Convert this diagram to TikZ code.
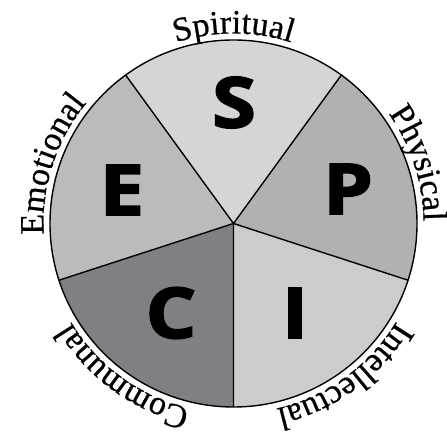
\documentclass[tikz,border=0pt]{standalone}
\usepackage{fontspec}
\setmainfont{Liberation Serif}
\newfontfamily\bigletterfont[BoldFeatures={FakeBold=2.5}]{Open Sans}
\newfontfamily\labelfontfam[LetterSpace=5,FakeBold=0.6]{Liberation Serif}
\usetikzlibrary{decorations.text}
\definecolor{secS}{RGB}{212,213,215}
\definecolor{secP}{RGB}{176,177,179}
\definecolor{secI}{RGB}{203,204,206}
\definecolor{secC}{RGB}{127,128,132}
\definecolor{secE}{RGB}{186,187,189}
\newcommand{\lab}{\labelfontfam\fontsize{34}{34}\selectfont}
\tikzset{
  divider/.style={line width=1.4pt, draw=black},
  rim/.style={line width=1.4pt, draw=black},
  bigletter/.style={inner sep=0pt, transform shape, xscale=1.13,
    font=\bigletterfont\bfseries\fontsize{70}{70}\selectfont},
  ringlabel/.style={decorate, decoration={text along path, text align=center}}
}
\begin{document}
\begin{tikzpicture}[x=1pt,y=1pt]
\useasboundingbox (0,0) rectangle (447,439);
\def\R{183.5}
\def\T{190}
\coordinate (O) at (233.5,215.5);
% sectors
\fill[secS] (O) -- ([shift={(54:\R)}]O) arc[start angle=54, end angle=126, radius=\R] -- cycle;
\fill[secE] (O) -- ([shift={(126:\R)}]O) arc[start angle=126, end angle=198, radius=\R] -- cycle;
\fill[secC] (O) -- ([shift={(198:\R)}]O) arc[start angle=198, end angle=270, radius=\R] -- cycle;
\fill[secI] (O) -- ([shift={(270:\R)}]O) arc[start angle=270, end angle=342, radius=\R] -- cycle;
\fill[secP] (O) -- ([shift={(-18:\R)}]O) arc[start angle=-18, end angle=54, radius=\R] -- cycle;
% boundary points
\coordinate (b1) at ([shift={(54:\R)}]O);
\coordinate (b2) at ([shift={(126:\R)}]O);
\coordinate (b3) at ([shift={(198:\R)}]O);
\coordinate (b4) at ([shift={(270:\R)}]O);
\coordinate (b5) at ([shift={(342:\R)}]O);
\draw[divider] (b1) -- (O) -- (b2);
\draw[divider] (b3) -- (O) -- (b4);
\draw[divider] (O) -- (b5);
\draw[rim] (O) circle[radius=\R];
% letters
\node[bigletter] (S) at (234,336.5) {S};
\node[bigletter] (E) at (122,249) {E};
\node[bigletter] (P) at (348,250) {P};
\node[bigletter] (C) at (171,126) {C};
\node[bigletter] (I) at (295,126) {I};
% ring labels
\path[ringlabel, decoration={text={|\lab|Spiritual}}] ([shift={(150:\T)}]O) arc[start angle=150, end angle=30, radius=\T];
\path[ringlabel, decoration={text={|\lab|Physical}}] ([shift={(78:\T)}]O) arc[start angle=78, end angle=-42, radius=\T];
\path[ringlabel, decoration={text={|\lab|Intellectual}}] ([shift={(6:\T)}]O) arc[start angle=6, end angle=-114, radius=\T];
\path[ringlabel, decoration={text={|\lab|Communal}}] ([shift={(294:\T)}]O) arc[start angle=294, end angle=174, radius=\T];
\path[ringlabel, decoration={text={|\lab|Emotional}}] ([shift={(222:\T)}]O) arc[start angle=222, end angle=102, radius=\T];
\end{tikzpicture}
\end{document}
